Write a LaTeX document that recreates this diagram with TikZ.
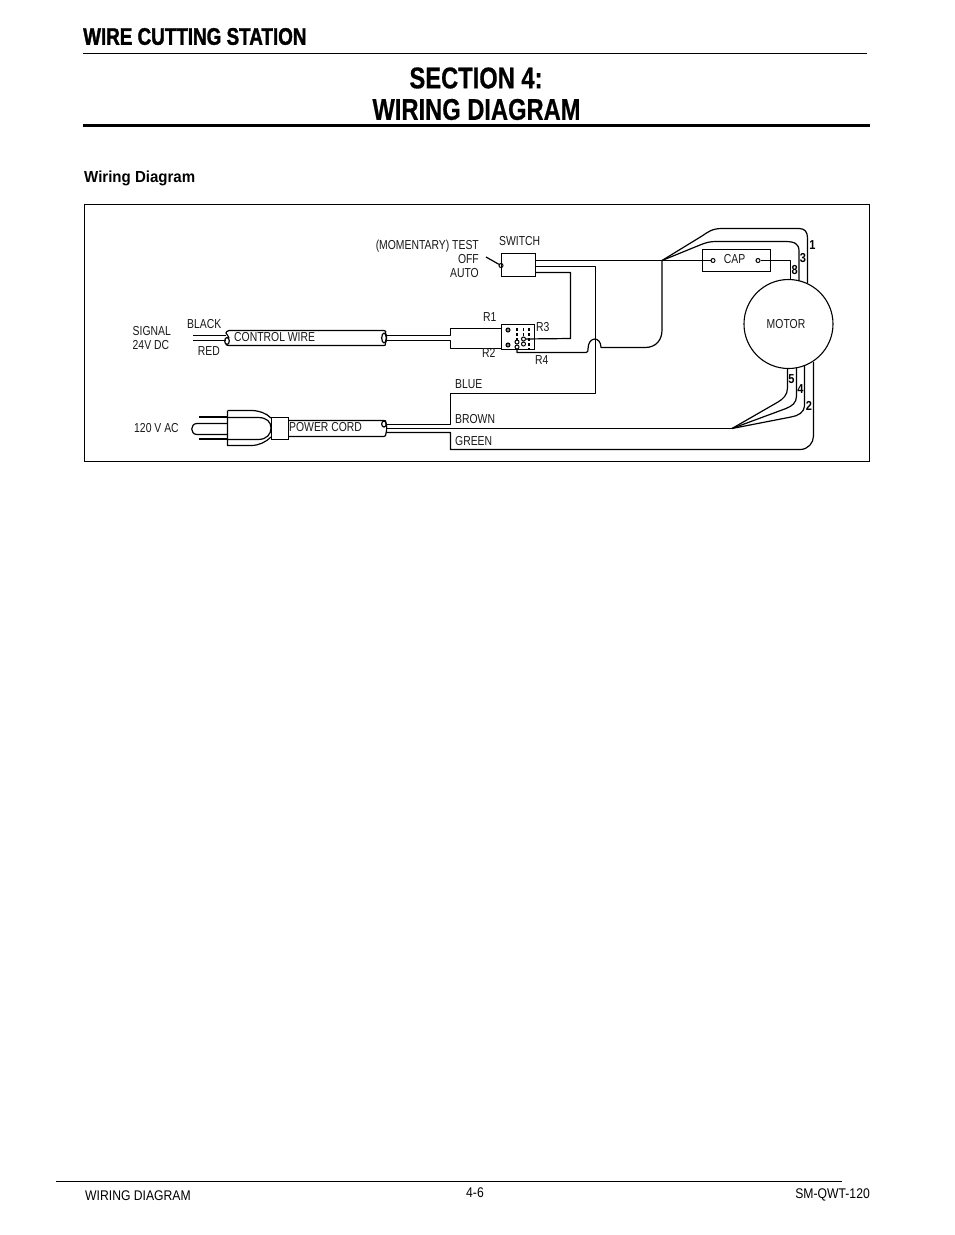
\documentclass[tikz,border=0pt]{standalone}
\usepackage{fontspec}
\setmainfont{Liberation Sans}
\newfontfamily\lab[FakeStretch=0.80]{Liberation Sans}
\newfontfamily\footf[FakeStretch=0.87]{Liberation Sans}
\newfontfamily\titlef[FakeStretch=0.79]{Liberation Sans Bold}
\newfontfamily\headf[FakeStretch=0.785]{Liberation Sans Bold}
\newfontfamily\subf[FakeStretch=0.94]{Liberation Sans Bold}
\newfontfamily\numf[FakeStretch=0.85]{Liberation Sans Bold}
\tikzset{
  wire/.style={draw=black,line width=1.2pt,line join=round},
  part/.style={draw=black,line width=1.1pt,fill=none,inner sep=0pt,rectangle},
  txt/.style={inner sep=0pt,text height=7.8pt,text depth=0pt,font=\lab\fontsize{13}{14}\selectfont,text=black!90},
  nmb/.style={inner sep=0pt,text height=8.4pt,text depth=0pt,font=\numf\fontsize{13}{14}\selectfont},
  foot/.style={inner sep=0pt,text height=10pt,text depth=0pt,font=\footf\fontsize{14}{16}\selectfont},
  term/.style={draw=black,line width=1pt,circle,inner sep=0pt,minimum size=4pt},
  dashv/.style={draw=black,line width=1.3pt,dash pattern=on 3pt off 2pt}
}
\begin{document}
\begin{tikzpicture}[x=1pt,y=-1pt]
\useasboundingbox (0,0) rectangle (954,1235);
\fill[white] (0,0) rectangle (954,1235);
% header
\node[inner sep=0pt,anchor=west,font=\headf\fontsize{24}{26}\selectfont\addfontfeature{FakeBold=1.5}] (head) at (83,36.5) {WIRE CUTTING STATION};
\draw[line width=1pt] (83,53.5) -- (867,53.5);
\node[inner sep=0pt,font=\titlef\fontsize{30}{32}\selectfont\addfontfeature{FakeBold=0.5}] (t1) at (476,78) {SECTION 4:};
\node[inner sep=0pt,font=\titlef\fontsize{30}{32}\selectfont\addfontfeature{FakeBold=0.5}] (t2) at (476.5,109.5) {WIRING DIAGRAM};
\draw[line width=3pt] (83,125.5) -- (870,125.5);
\node[inner sep=0pt,anchor=west,font=\subf\fontsize{16}{18}\selectfont] (sub) at (84,178.5) {Wiring Diagram};
\draw[line width=1pt] (84.5,204.5) rectangle (869.5,461.5);
% footer
\draw[line width=1pt] (56,1181.5) -- (842,1181.5);
\node[foot,anchor=west] (f1) at (85,1195.5) {WIRING DIAGRAM};
\node[foot] (f2) at (475,1192.5) {4-6};
\node[foot,anchor=east] (f3) at (870,1193.5) {SM-QWT-120};

% parts
\node[part,minimum width=34pt,minimum height=23pt] (switch) at (518.5,265) {};
\node[part,minimum width=33pt,minimum height=25pt] (relay) at (518,337) {};
\node[part,minimum width=68pt,minimum height=22pt] (cap) at (736.5,260.5) {};
\node[part,circle,minimum size=89pt] (motor) at (788.5,324) {};
\node[term] (lever) at (501,265.5) {};
\node[term] (capa) at (713,260.5) {};
\node[term] (capb) at (758,260.5) {};
\node[term,fill=black!50] (r1t) at (508,330) {};
\node[term,fill=black!50] (r2t) at (508,345) {};
\node[term] (r4a) at (517,342) {};
\node[term] (r4b) at (517,347) {};
\node[term] (r3a) at (523.5,339) {};
\node[term] (r3b) at (523.5,344) {};
\draw[dashv] (517,328) -- (517,340);
\draw[dashv] (523.5,328) -- (523.5,337);
\draw[dashv] (529,328) -- (529,349);

% junction coordinates
\coordinate (hub) at (662,260.5);
\coordinate (apex) at (732,428.5);
\coordinate (swa) at (535.5,260.5);
\coordinate (swb) at (535.5,266.5);
\coordinate (swc) at (535.5,272.5);
\coordinate (leverend) at (486,257);
\coordinate (ctlL1) at (193,335.5); \coordinate (ctlL2) at (193,340.5);
\coordinate (ctlLe1) at (226,335.5); \coordinate (ctlLe2) at (226,340.5);
\coordinate (ctlR1) at (386,335.5); \coordinate (ctlR2) at (386,340.5);
\coordinate (r1in) at (502,328.5); \coordinate (r2in) at (502,348.5);
\coordinate (pwrB) at (386,424.5); \coordinate (pwrW) at (386,428.5); \coordinate (pwrG) at (386,432.5);

% control cable
\draw[wire] (229,330.5) -- (384,330.5) .. controls (386,330.5) and (386,332) .. (385.5,333)
  .. controls (387,336) and (387,340) .. (385.5,343) .. controls (386,345) and (385,345.5) .. (384,345.5)
  -- (229,345.5) .. controls (227,345.5) and (226,345) .. (226,344);
\draw[wire] (229,330.5) .. controls (227,331) and (226,332) .. (226,333) .. controls (227,335) and (228.5,336) .. (229,338);
\draw[wire] (227,341) ellipse (2.3 and 3.5);
\draw[wire] (384,338) ellipse (2.3 and 5);
\draw[wire] (ctlL1) -- (ctlLe1);
\draw[wire] (ctlL2) -- (ctlLe2);
\draw[wire] (ctlR1) -- (450.5,335.5) -- (450.5,328.5) -- (r1in);
\draw[wire] (ctlR2) -- (450.5,340.5) -- (450.5,348.5) -- (r2in);

% switch wires
\draw[wire] (leverend) -- (lever);
\draw[wire] (swa) -- (hub) -- (capa);
\draw[wire] (swb) -- (595.5,266.5) -- (595.5,393.5) -- (450.5,393.5) -- (450.5,424.5) -- (pwrB);
\draw[wire] (swc) -- (570.5,272.5) -- (570.5,338.5) -- (r3a);
\draw[wire] (r4b) -- (517,352.5) -- (586,352.5) .. controls (588,352.5) and (588,351) .. (588,349)
  .. controls (588,336) and (601,336) .. (601,347.5) -- (645,347.5)
  .. controls (656,347.5) and (662,340) .. (662,330) -- (hub);
% cap and motor wires
\draw[wire] (capb) -- (790.5,260.5) -- (790.5,279.5);
\draw[wire] (hub) -- (700,245) .. controls (706,242.5) and (710,241.5) .. (716,241.5) -- (785,241.5)
  .. controls (795,241.5) and (799,244) .. (799,251) -- (799,281);
\draw[wire] (hub) -- (702,236) .. controls (708,232) and (712,228.5) .. (722,228.5) -- (799,228.5)
  .. controls (805,228.5) and (807.5,232) .. (807.5,238) -- (807.5,283);
% power cable
\draw[wire] (288,420.5) -- (384,420.5) .. controls (386,420.5) and (386,421) .. (385.5,422)
  .. controls (387,425) and (387,431) .. (386,433) .. controls (386,435) and (385.5,436.5) .. (384,436.5) -- (288,436.5);
\draw[wire] (384,424) ellipse (2.3 and 3);
\draw[wire] (pwrW) -- (apex);
\draw[wire] (pwrG) -- (450.5,432.5) -- (450.5,449.5) -- (800,449.5)
  .. controls (808,449.5) and (813.5,443) .. (813.5,436) -- (813.5,362);
% motor lower wires
\draw[wire] (787.5,368) -- (787.5,388) .. controls (787.5,395) and (783,399) .. (778,402) -- (apex);
\draw[wire] (796.5,367) -- (796.5,396) .. controls (796.5,403) and (792,406) .. (786,408.5) -- (apex);
\draw[wire] (804.5,365) -- (804.5,406) .. controls (804.5,412) and (798,416) .. (791,417) -- (apex);
% plug
\draw[wire] (227.5,410.5) -- (227.5,445.5) -- (251,445.5) .. controls (259,445.5) and (266,442) .. (271,437);
\draw[wire] (227.5,410.5) -- (251,410.5) .. controls (259,410.5) and (266,413) .. (271,418);
\draw[wire] (227.5,417.5) -- (258,417.5) .. controls (267,417.5) and (271,422) .. (271,428)
  .. controls (271,434) and (267,439.5) .. (258,439.5) -- (227.5,439.5);
\node[part,minimum width=17pt,minimum height=22pt] (collar) at (280,428.5) {};
\draw[line width=1.6pt] (227,417) -- (199,417);
\draw[line width=1.6pt] (227,439) -- (199,439);
\draw[wire] (227,423.5) -- (197,423.5) .. controls (190,423.5) and (190,434.5) .. (197,434.5) -- (227,434.5);

% labels
\node[txt,anchor=west] (signal) at (132.5,331.5) {SIGNAL};
\node[txt,anchor=west] (v24) at (132.5,345.5) {24V DC};
\node[txt,anchor=west] (black) at (187,324.5) {BLACK};
\node[txt,anchor=east] (red) at (220,351.5) {RED};
\node[txt,anchor=west] (cw) at (234,337.5) {CONTROL WIRE};
\node[txt,anchor=west] (v120) at (134,428.5) {120 V AC};
\node[txt,anchor=west] (pc) at (289,427.5) {POWER CORD};
\node[txt,anchor=east] (mt) at (479,245.5) {(MOMENTARY) TEST};
\node[txt,anchor=east] (off) at (479,259.5) {OFF};
\node[txt,anchor=east] (auto) at (479,273.5) {AUTO};
\node[txt,anchor=west] (swl) at (499,241.5) {SWITCH};
\node[txt,anchor=west] (r1) at (483,317.5) {R1};
\node[txt,anchor=west] (r2) at (482,353.5) {R2};
\node[txt,anchor=west] (r3) at (536,327.5) {R3};
\node[txt,anchor=west] (r4) at (535,360.5) {R4};
\node[txt,anchor=west] (blue) at (455,384.5) {BLUE};
\node[txt,anchor=west] (brown) at (455,420) {BROWN};
\node[txt,anchor=west] (green) at (455,441.5) {GREEN};
\node[txt] (capl) at (734.5,259.5) {CAP};
\node[txt] (motl) at (786,324.5) {MOTOR};
\node[nmb] (n1) at (812.5,245.5) {1};
\node[nmb] (n3) at (803,258.5) {3};
\node[nmb] (n8) at (794.7,270.5) {8};
\node[nmb] (n5) at (791.5,379) {5};
\node[nmb] (n4) at (800.5,389.5) {4};
\node[nmb] (n2) at (809,406.5) {2};
\end{tikzpicture}
\end{document}
